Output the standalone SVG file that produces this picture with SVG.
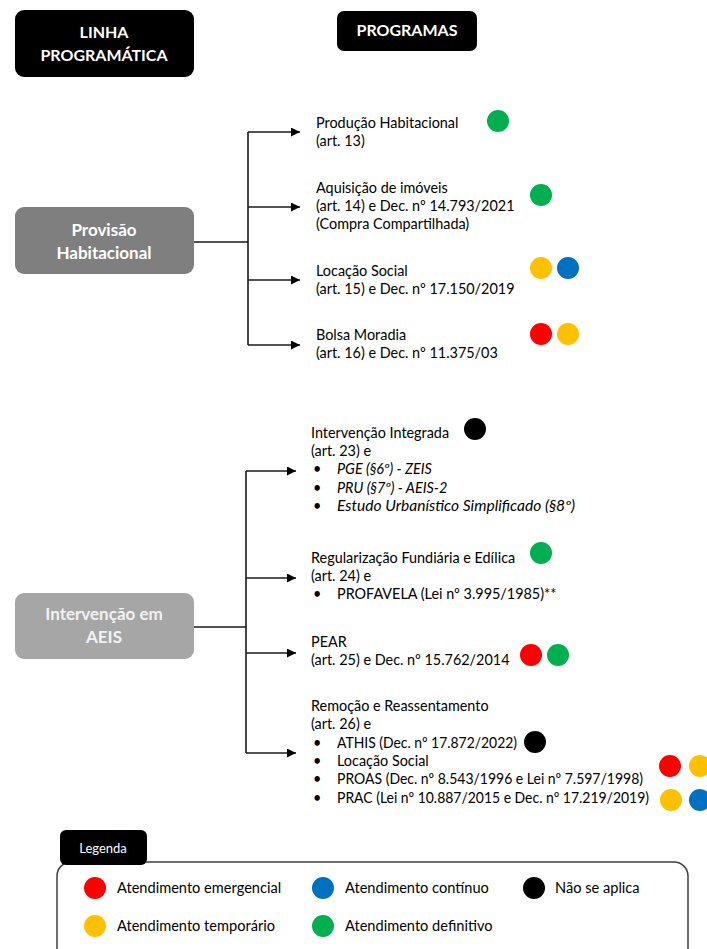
<svg xmlns="http://www.w3.org/2000/svg" width="707" height="949" viewBox="0 0 707 949">
<defs>
<style>
text{font-family:Lato,"Liberation Sans",sans-serif;fill:#000}
.hd{font-size:16px;font-weight:bold;fill:#fff;text-anchor:middle}
.gb{font-size:17px;font-weight:bold;fill:#fff;text-anchor:middle}
.t{font-size:14.4px}
.it{font-size:14.4px;font-style:italic}
.lg{font-size:14.6px}
.con{stroke:#1a1a1a;stroke-width:1.6;fill:none}
.r{fill:#ff0000}.y{fill:#ffc000}.b{fill:#0070c0}.g{fill:#00b050}.k{fill:#000}
</style>
<marker id="ah" viewBox="0 0 10 10" refX="10" refY="5" markerWidth="10" markerHeight="9" markerUnits="userSpaceOnUse" orient="auto">
<path d="M0,0 L10,5 L0,10 Z" fill="#000"/>
</marker>
</defs>
<rect width="707" height="949" fill="#fff"/>

<g id="hdr-linha">
<rect x="15" y="10" width="179" height="67" rx="9" fill="#000"/>
<text class="hd" x="104" y="38">LINHA</text>
<text class="hd" x="104" y="61">PROGRAMÁTICA</text>
</g>
<g id="hdr-programas">
<rect x="337" y="11" width="140" height="40" rx="7" fill="#000"/>
<text class="hd" x="407" y="36">PROGRAMAS</text>
</g>

<g id="provisao">
<rect x="15" y="207" width="179" height="67" rx="9" fill="#7f7f7f"/>
<text class="gb" x="104" y="236">Provisão</text>
<text class="gb" x="104" y="259">Habitacional</text>
</g>
<g id="aeis">
<rect x="15" y="593" width="179" height="66" rx="9" fill="#a6a6a6"/>
<text class="gb" x="104" y="620" style="fill:#f2f2f2">Intervenção em</text>
<text class="gb" x="104" y="643" style="fill:#f2f2f2">AEIS</text>
</g>

<g id="connectors">
<path class="con" d="M194,242 H248 M248,132 V345 M194,627 H246 M246,471 V753"/>
<path class="con" marker-end="url(#ah)" d="M248,132 H300"/>
<path class="con" marker-end="url(#ah)" d="M248,207 H300"/>
<path class="con" marker-end="url(#ah)" d="M248,280 H300"/>
<path class="con" marker-end="url(#ah)" d="M248,345 H300"/>
<path class="con" marker-end="url(#ah)" d="M246,471 H296"/>
<path class="con" marker-end="url(#ah)" d="M246,578 H296"/>
<path class="con" marker-end="url(#ah)" d="M246,653 H296"/>
<path class="con" marker-end="url(#ah)" d="M246,753 H296"/>
</g>

<g id="p-producao">
<text class="t" x="316" y="128">Produção Habitacional</text>
<text class="t" x="316" y="146">(art. 13)</text>
<circle class="g" cx="498" cy="121" r="11"/>
</g>
<g id="p-aquisicao">
<text class="t" x="316" y="193">Aquisição de imóveis</text>
<text class="t" x="316" y="211">(art. 14) e Dec. nº 14.793/2021</text>
<text class="t" x="316" y="229">(Compra Compartilhada)</text>
<circle class="g" cx="541" cy="195" r="11"/>
</g>
<g id="p-locacao">
<text class="t" x="316" y="276">Locação Social</text>
<text class="t" x="316" y="294">(art. 15) e Dec. nº 17.150/2019</text>
<circle class="y" cx="541" cy="268" r="11"/>
<circle class="b" cx="568" cy="268" r="11"/>
</g>
<g id="p-bolsa">
<text class="t" x="316" y="340">Bolsa Moradia</text>
<text class="t" x="316" y="358">(art. 16) e Dec. nº 11.375/03</text>
<circle class="r" cx="541" cy="334" r="11"/>
<circle class="y" cx="568" cy="334" r="11"/>
</g>

<g id="p-integrada">
<text class="t" x="311" y="438">Intervenção Integrada</text>
<text class="t" x="311" y="456">(art. 23) e</text>
<text class="t" x="313" y="474">•</text>
<text class="it" x="337" y="474">PGE (§6º) - ZEIS</text>
<text class="t" x="313" y="493">•</text>
<text class="it" x="337" y="493">PRU (§7º) - AEIS-2</text>
<text class="t" x="313" y="511">•</text>
<text class="it" x="337" y="511" textLength="238" lengthAdjust="spacingAndGlyphs">Estudo Urbanístico Simplificado (§8º)</text>
<circle class="k" cx="475" cy="429" r="11"/>
</g>
<g id="p-regularizacao">
<text class="t" x="311" y="563">Regularização Fundiária e Edílica</text>
<text class="t" x="311" y="581">(art. 24) e</text>
<text class="t" x="313" y="599">•</text>
<text class="t" x="337" y="599">PROFAVELA (Lei nº 3.995/1985)**</text>
<circle class="g" cx="541" cy="553" r="11"/>
</g>
<g id="p-pear">
<text class="t" x="311" y="647">PEAR</text>
<text class="t" x="311" y="665">(art. 25) e Dec. nº 15.762/2014</text>
<circle class="r" cx="531" cy="655" r="11"/>
<circle class="g" cx="558" cy="655" r="11"/>
</g>
<g id="p-remocao">
<text class="t" x="311" y="711">Remoção e Reassentamento</text>
<text class="t" x="311" y="729">(art. 26) e</text>
<text class="t" x="313" y="748">•</text>
<text class="t" x="337" y="748" textLength="180" lengthAdjust="spacingAndGlyphs">ATHIS (Dec. nº 17.872/2022)</text>
<text class="t" x="313" y="766">•</text>
<text class="t" x="337" y="766">Locação Social</text>
<text class="t" x="313" y="784">•</text>
<text class="t" x="337" y="784" textLength="306" lengthAdjust="spacingAndGlyphs">PROAS (Dec. nº 8.543/1996 e Lei nº 7.597/1998)</text>
<text class="t" x="313" y="803">•</text>
<text class="t" x="337" y="803" textLength="312" lengthAdjust="spacingAndGlyphs">PRAC (Lei nº 10.887/2015 e Dec. nº 17.219/2019)</text>
<circle class="k" cx="535" cy="742" r="11"/>
<circle class="r" cx="670" cy="766" r="11"/>
<circle class="y" cx="700" cy="766" r="11"/>
<circle class="y" cx="671" cy="800" r="11"/>
<circle class="b" cx="700" cy="800" r="11"/>
</g>

<g id="legenda">
<rect x="57" y="862" width="631" height="110" rx="14" fill="#fff" stroke="#404040" stroke-width="1.5"/>
<rect x="60" y="830" width="87" height="35" rx="6" fill="#000"/>
<text x="103" y="853" style="font-size:13px;fill:#fff;text-anchor:middle">Legenda</text>
<circle class="r" cx="95" cy="888" r="11"/>
<text class="lg" x="117" y="893">Atendimento emergencial</text>
<circle class="b" cx="323" cy="888" r="11"/>
<text class="lg" x="345" y="893">Atendimento contínuo</text>
<circle class="k" cx="534" cy="888" r="11"/>
<text class="lg" x="555" y="893">Não se aplica</text>
<circle class="y" cx="95" cy="926" r="11"/>
<text class="lg" x="117" y="931">Atendimento temporário</text>
<circle class="g" cx="323" cy="926" r="11"/>
<text class="lg" x="345" y="931">Atendimento definitivo</text>
</g>
</svg>
